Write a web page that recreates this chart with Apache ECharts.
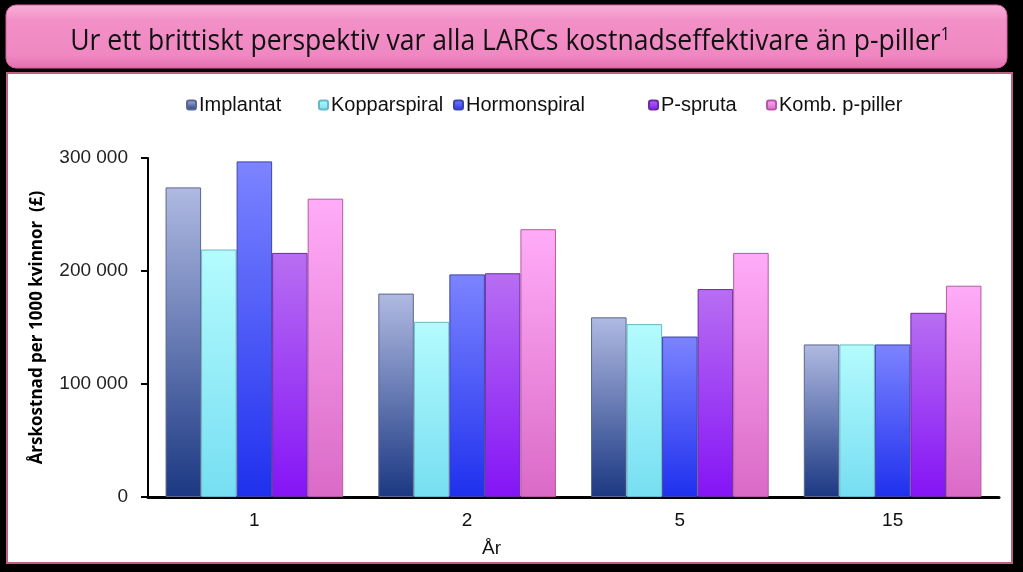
<!DOCTYPE html>
<html lang="sv">
<head>
<meta charset="utf-8">
<title>LARC kostnad</title>
<script src="https://cdn.jsdelivr.net/npm/echarts@6/dist/echarts.min.js"></script>
<style>
html, body { margin: 0; padding: 0; background: #000; }
#chart { width: 1023px; height: 572px; }
</style>
</head>
<body>
<div id="chart"></div>
<script>
// data
var years = ['1', '2', '5', '15'];
var implantat = [274000, 180000, 159000, 135000];
var kopparspiral = [219000, 155000, 153000, 135000];
var hormonspiral = [297000, 197000, 142000, 135000];
var pSpruta = [216000, 198000, 184000, 163000];
var kombPiller = [264000, 237000, 216000, 187000];
var seriesNames = ['Implantat', 'Kopparspiral', 'Hormonspiral', 'P-spruta', 'Komb. p-piller'];
var yMax = 300000, yStep = 100000;

var chart = echarts.init(document.getElementById('chart'));

function grad(top, bottom) {
    return new echarts.graphic.LinearGradient(0, 0, 0, 1, [
        { offset: 0, color: top },
        { offset: 1, color: bottom }
    ]);
}

var looks = [
    { top: '#b0bae2', bottom: '#1b3882', edge: '#5d6690' },
    { top: '#b4fbfd', bottom: '#76def2', edge: '#66b8c6' },
    { top: '#7c84ff', bottom: '#1f30ee', edge: '#3c44a8' },
    { top: '#b86ef2', bottom: '#8414f6', edge: '#6a2aa0' },
    { top: '#ffacf8', bottom: '#da6ac6', edge: '#b25aa6' }
];
var values = [implantat, kopparspiral, hormonspiral, pSpruta, kombPiller];
var legendLeft = [186, 318, 453, 648, 766];

var series = seriesNames.map(function (n, i) {
    return {
        name: n,
        type: 'bar',
        data: values[i],
        barGap: '0%',
        barCategoryGap: '16.5%',
        itemStyle: {
            color: grad(looks[i].top, looks[i].bottom),
            borderColor: looks[i].edge,
            borderWidth: 1
        }
    };
});

var legends = seriesNames.map(function (n, i) {
    return {
        data: [n],
        left: legendLeft[i],
        top: 95,
        itemWidth: 9,
        itemHeight: 9,
        itemGap: 0,
        padding: 0,
        textStyle: { fontFamily: 'Liberation Sans', fontSize: 20, color: '#111', padding: [0, 0, 0, -2] }
    };
});

chart.setOption({
    animation: false,
    backgroundColor: '#000',
    graphic: [
        {
            type: 'rect', z: -10,
            shape: { x: 7, y: 73, width: 1005, height: 490 },
            style: { fill: '#fff', stroke: '#c0607f', lineWidth: 2 }
        },
        {
            type: 'rect', z: -10,
            shape: { x: 6, y: 5, width: 1001, height: 63, r: 10 },
            style: {
                fill: new echarts.graphic.LinearGradient(0, 0, 0, 1, [
                    { offset: 0, color: '#f8b0d8' },
                    { offset: 0.25, color: '#f290c6' },
                    { offset: 0.8, color: '#f087c2' },
                    { offset: 1, color: '#e46fb0' }
                ]),
                stroke: '#d8609f', lineWidth: 1
            }
        },
        {
            type: 'text', z: 10,
            x: 510, y: 41, scaleX: 0.885,
            style: {
                text: 'Ur ett brittiskt perspektiv var alla LARCs kostnadseffektivare än p-piller{sup|1}',
                fontFamily: 'Open Sans', fontSize: 30, fill: '#111',
                align: 'center', verticalAlign: 'middle',
                rich: { sup: { fontFamily: 'Open Sans', fontSize: 18, verticalAlign: 'top', padding: [0, 0, 12, 0] } }
            }
        }
    ],
    legend: legends,
    grid: { left: 148, right: 24, top: 158, bottom: 75, outerBoundsMode: 'none' },
    xAxis: {
        type: 'category',
        data: years,
        name: 'År',
        nameLocation: 'middle',
        nameGap: 42,
        nameTextStyle: { fontFamily: 'Liberation Sans', fontSize: 19, color: '#111', padding: [0, 164, 0, 0] },
        axisLine: { lineStyle: { color: '#000', width: 3 } },
        axisTick: { length: 7, lineStyle: { color: '#000', width: 2 } },
        axisLabel: { margin: 14, fontFamily: 'Liberation Sans', fontSize: 19, color: '#111' }
    },
    yAxis: {
        type: 'value',
        min: 0, max: yMax, interval: yStep,
        name: 'Årskostnad per 1000 kvinnor  (£)',
        nameLocation: 'middle',
        nameGap: 102,
        nameTextStyle: { fontFamily: 'Open Sans', fontWeight: 'bold', fontSize: 17, color: '#000' },
        axisLine: { show: true, lineStyle: { color: '#000', width: 2 } },
        axisTick: { show: true, length: 7, lineStyle: { color: '#000', width: 2 } },
        splitLine: { show: false },
        axisLabel: {
            margin: 20, fontFamily: 'Liberation Sans', fontSize: 19, color: '#222',
            formatter: function (v) { return String(v).replace(/\B(?=(\d{3})+(?!\d))/g, ' '); }
        }
    },
    series: series
});
</script>
</body>
</html>
